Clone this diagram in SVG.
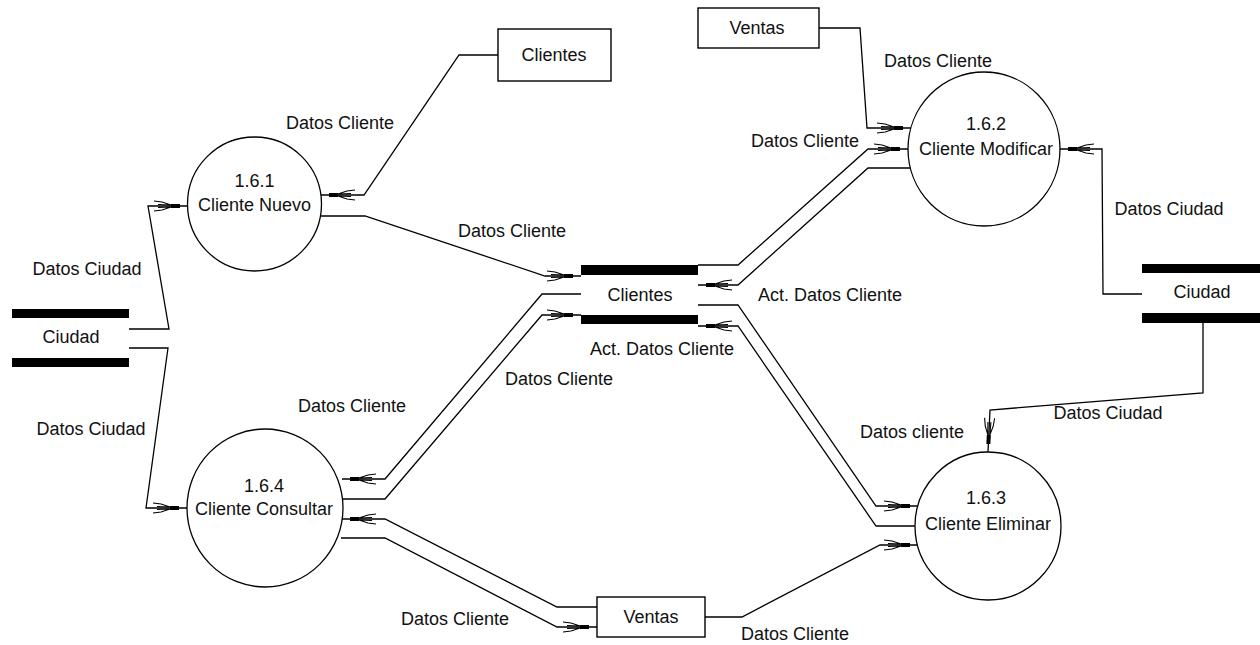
<svg xmlns="http://www.w3.org/2000/svg" width="1260" height="645" viewBox="0 0 1260 645">
  <style>
    text { font-family: "Liberation Sans", Arial, sans-serif; font-size: 18px; fill: #111; text-anchor: middle; }
    .proc { fill: #fff; stroke: #000; stroke-width: 1.3; }
    .ent { fill: #fff; stroke: #000; stroke-width: 1.4; }
    .bar { fill: #000; }
    .flow { fill: none; stroke: #000; stroke-width: 1.3; marker-end: url(#head); }
    .plain { fill: none; stroke: #000; stroke-width: 1.3; }
  </style>
  <defs>
    <!-- fletched arrowhead: stem, solid block, fanned tail lines -->
    <marker id="head" markerUnits="userSpaceOnUse" viewBox="-38 -8 40 16" refX="0" refY="0" markerWidth="40" markerHeight="16" orient="auto">
      <rect x="-17" y="-2" width="9" height="4" fill="#000"/>
      <path d="M-17,-1 L-26,-4 L-34,-5 M-17,1 L-26,4 L-34,5 M-17,-1 L-30,-1.5 M-17,1 L-30,1.5" fill="none" stroke="#000" stroke-width="1.1"/>
    </marker>
  </defs>
  <rect width="1260" height="645" fill="#fff"/>

  <!-- data flows -->
  <g id="connectors">
    <!-- Clientes entity -> 1.6.1 -->
    <polyline class="flow" points="498,55 459,55 364,195 321,195"/>
    <!-- Ciudad (left) -> 1.6.1 -->
    <polyline class="flow" points="129,329 169,329 148,206 188,206"/>
    <!-- Ciudad (left) -> 1.6.4 -->
    <polyline class="flow" points="129,348 168,348 146,508 187,508"/>
    <!-- 1.6.1 -> Clientes store -->
    <polyline class="flow" points="320,216 365,216 545,276 581,276"/>
    <!-- Clientes store -> 1.6.4 -->
    <polyline class="flow" points="581,294 542,294 385,479 342,479"/>
    <!-- 1.6.4 -> Clientes store -->
    <polyline class="flow" points="341,499 385,499 542,315 581,315"/>
    <!-- Ventas (bottom) -> 1.6.4 -->
    <polyline class="flow" points="597,607 557,607 385,519 342,519"/>
    <!-- 1.6.4 -> Ventas (bottom) -->
    <polyline class="flow" points="341,538 385,538 557,627 597,627"/>
    <!-- Ventas (top) -> 1.6.2 -->
    <polyline class="flow" points="819,28 860,28 867,128 911,128"/>
    <!-- Clientes store -> 1.6.2 -->
    <polyline class="flow" points="698,265 738,265 868,149 908,149"/>
    <!-- 1.6.2 -> Clientes store -->
    <polyline class="flow" points="910,168 868,168 738,285 698,285"/>
    <!-- Ciudad (right) -> 1.6.2 -->
    <polyline class="flow" points="1142,294 1103,294 1102,149 1060,149"/>
    <!-- Ciudad (right) -> 1.6.3 -->
    <polyline class="flow" points="1203,323 1203,393 990,410 988,452"/>
    <!-- Clientes store -> 1.6.3 -->
    <polyline class="flow" points="698,305 738,305 876,506 918,506"/>
    <!-- 1.6.3 -> Clientes store -->
    <polyline class="flow" points="915,526 876,526 738,326 698,326"/>
    <!-- Ventas (bottom) -> 1.6.3 -->
    <polyline class="flow" points="705,617 742,617 880,545 918,545"/>
  </g>

  <!-- flow labels -->
  <g id="labels">
    <text x="340" y="129">Datos Cliente</text>
    <text x="512" y="237">Datos Cliente</text>
    <text x="87" y="275">Datos Ciudad</text>
    <text x="91" y="435">Datos Ciudad</text>
    <text x="938" y="67">Datos Cliente</text>
    <text x="805" y="147">Datos Cliente</text>
    <text x="1169" y="215">Datos Ciudad</text>
    <text x="830" y="301">Act. Datos Cliente</text>
    <text x="662" y="355">Act. Datos Cliente</text>
    <text x="559" y="385">Datos Cliente</text>
    <text x="352" y="412">Datos Cliente</text>
    <text x="1108" y="419">Datos Ciudad</text>
    <text x="912" y="438">Datos cliente</text>
    <text x="455" y="625">Datos Cliente</text>
    <text x="795" y="640">Datos Cliente</text>
  </g>

  <!-- processes -->
  <g id="p161">
    <ellipse class="proc" cx="254.5" cy="204" rx="67" ry="67"/>
    <text x="254.5" y="187">1.6.1</text>
    <text x="254.5" y="211">Cliente Nuevo</text>
  </g>
  <g id="p162">
    <ellipse class="proc" cx="984" cy="149" rx="76" ry="77"/>
    <text x="986" y="130">1.6.2</text>
    <text x="986" y="155">Cliente Modificar</text>
  </g>
  <g id="p163">
    <ellipse class="proc" cx="988" cy="526" rx="73" ry="74"/>
    <text x="986" y="504">1.6.3</text>
    <text x="988" y="530">Cliente Eliminar</text>
  </g>
  <g id="p164">
    <ellipse class="proc" cx="265" cy="508" rx="78" ry="79"/>
    <text x="264" y="492">1.6.4</text>
    <text x="264" y="515">Cliente Consultar</text>
  </g>

  <!-- external entities -->
  <g id="ent-clientes">
    <rect class="ent" x="498" y="29" width="113" height="52"/>
    <text x="554" y="61">Clientes</text>
  </g>
  <g id="ent-ventas-top">
    <rect class="ent" x="698" y="8" width="121" height="40"/>
    <text x="757" y="34">Ventas</text>
  </g>
  <g id="ent-ventas-bottom">
    <rect class="ent" x="597" y="597" width="108" height="40"/>
    <text x="651" y="623">Ventas</text>
  </g>

  <!-- data stores -->
  <g id="store-clientes">
    <rect class="bar" x="581" y="265" width="117" height="10"/>
    <rect class="bar" x="581" y="315" width="117" height="9"/>
    <text x="640" y="301">Clientes</text>
  </g>
  <g id="store-ciudad-left">
    <rect class="bar" x="12" y="309" width="117" height="9"/>
    <rect class="bar" x="12" y="358" width="117" height="9"/>
    <text x="71" y="343">Ciudad</text>
  </g>
  <g id="store-ciudad-right">
    <rect class="bar" x="1142" y="264" width="118" height="9"/>
    <rect class="bar" x="1142" y="313" width="118" height="10"/>
    <text x="1202" y="298">Ciudad</text>
  </g>
</svg>
